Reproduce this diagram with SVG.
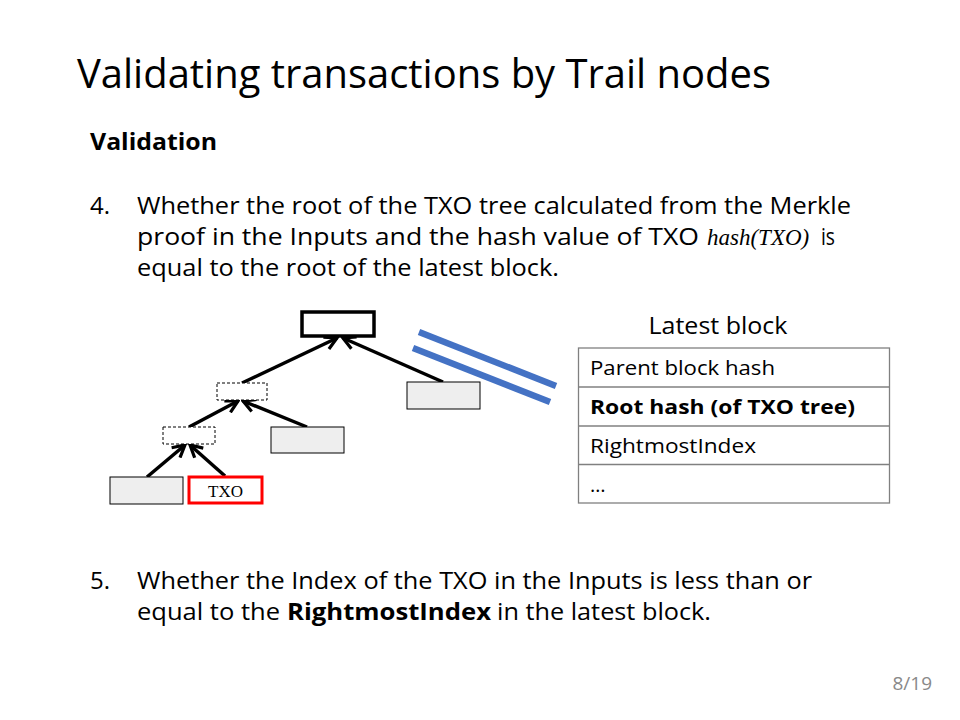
<svg xmlns="http://www.w3.org/2000/svg" width="960" height="720" viewBox="0 0 960 720">
<style>
.t{font-family:"Open Sans","Noto Sans","Liberation Sans",sans-serif;fill:#000}
.b{font-weight:bold}
.m{font-family:"Liberation Serif",serif;font-size:23px;font-style:italic}
.gray{fill:#eeeeee;stroke:#000;stroke-width:1}
.dash{fill:#fff;stroke:#000;stroke-width:1;stroke-dasharray:3,2}
.arr{stroke:#000;stroke-width:3.5;fill:none;marker-end:url(#ah)}
.row{stroke:#808080;stroke-width:1.3;fill:none}
</style>
<defs>
<marker id="ah" markerUnits="userSpaceOnUse" viewBox="0 0 16 16" markerWidth="16" markerHeight="16" refX="14" refY="8" orient="auto">
<path d="M2,1.5 L14,8 L2,14.5" fill="none" stroke="#000" stroke-width="3.2"/>
</marker>
</defs>
<rect width="960" height="720" fill="#fff"/>

<text class="t" x="77" y="88" font-size="40" textLength="694" lengthAdjust="spacingAndGlyphs">Validating transactions by Trail nodes</text>
<text class="t b" x="90" y="150" font-size="24" textLength="127" lengthAdjust="spacingAndGlyphs">Validation</text>

<text class="t" x="90" y="214" font-size="24">4.</text>
<text class="t" x="137" y="214" font-size="24" textLength="714" lengthAdjust="spacingAndGlyphs">Whether the root of the TXO tree calculated from the Merkle</text>
<text class="t" x="137" y="245" font-size="24" textLength="562" lengthAdjust="spacingAndGlyphs">proof in the Inputs and the hash value of TXO</text>
<text class="m" x="707" y="245">hash(TXO)</text>
<text class="t" x="821" y="245" font-size="24" textLength="14" lengthAdjust="spacingAndGlyphs">is</text>
<text class="t" x="137" y="276" font-size="24" textLength="422" lengthAdjust="spacingAndGlyphs">equal to the root of the latest block.</text>

<g id="connectors">
<line class="arr" x1="443" y1="382" x2="343" y2="338"/>
<line class="arr" x1="242" y1="383" x2="337" y2="338"/>
<line class="arr" x1="307" y1="427" x2="243" y2="401"/>
<line class="arr" x1="189" y1="427" x2="238" y2="401"/>
<line class="arr" x1="147" y1="477" x2="185" y2="445"/>
<line class="arr" x1="225" y1="476" x2="190" y2="445"/>
</g>

<g id="root"><rect x="302" y="312" width="72" height="24" fill="#fff" stroke="#000" stroke-width="3.5"/></g>
<g id="inner1"><rect class="dash" x="217" y="383" width="50" height="17"/></g>
<g id="inner2"><rect class="dash" x="163" y="427" width="52" height="17"/></g>
<g id="leafRight"><rect class="gray" x="407" y="382" width="73" height="27"/></g>
<g id="leafMid"><rect class="gray" x="271" y="427" width="73" height="26"/></g>
<g id="leafLeft"><rect class="gray" x="110" y="477" width="73" height="27"/></g>
<g id="txo"><rect x="189" y="477" width="73" height="26" fill="#fff" stroke="#ff0000" stroke-width="3"/>
<text x="225.5" y="497" font-family="Liberation Serif,serif" font-size="17" text-anchor="middle">TXO</text></g>

<g id="equals">
<line x1="419" y1="332" x2="556" y2="386" stroke="#4472C4" stroke-width="6.5"/>
<line x1="413" y1="348" x2="550" y2="402" stroke="#4472C4" stroke-width="6.5"/>
</g>

<g id="latestBlock">
<text class="t" x="718" y="334" font-size="23" text-anchor="middle" textLength="139" lengthAdjust="spacingAndGlyphs">Latest block</text>
<rect class="row" x="578.5" y="348" width="311" height="155"/>
<line class="row" x1="578.5" y1="387" x2="889.5" y2="387"/>
<line class="row" x1="578.5" y1="426" x2="889.5" y2="426"/>
<line class="row" x1="578.5" y1="464.5" x2="889.5" y2="464.5"/>
<text class="t" x="590" y="375" font-size="20" textLength="185" lengthAdjust="spacingAndGlyphs">Parent block hash</text>
<text class="t b" x="590" y="414" font-size="20" textLength="265" lengthAdjust="spacingAndGlyphs">Root hash (of TXO tree)</text>
<text class="t" x="590" y="453" font-size="20" textLength="166" lengthAdjust="spacingAndGlyphs">RightmostIndex</text>
<text class="t" x="590" y="492" font-size="20">…</text>
</g>

<text class="t" x="90" y="589" font-size="24">5.</text>
<text class="t" x="137" y="589" font-size="24" textLength="675" lengthAdjust="spacingAndGlyphs">Whether the Index of the TXO in the Inputs is less than or</text>
<text class="t" x="137" y="620" font-size="24" textLength="143" lengthAdjust="spacingAndGlyphs">equal to the</text>
<text class="t b" x="287" y="620" font-size="24" textLength="204" lengthAdjust="spacingAndGlyphs">RightmostIndex</text>
<text class="t" x="497" y="620" font-size="24" textLength="214" lengthAdjust="spacingAndGlyphs">in the latest block.</text>

<text class="t" x="932" y="690" font-size="19" style="fill:#898989" text-anchor="end">8/19</text>
</svg>
